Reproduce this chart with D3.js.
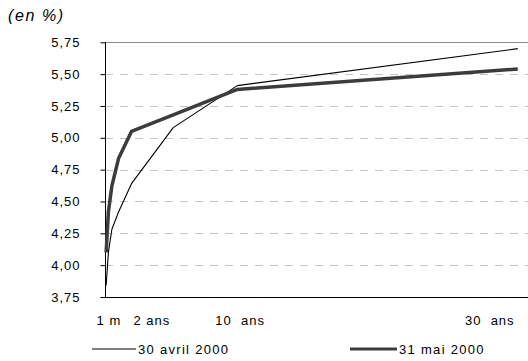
<!DOCTYPE html>
<html>
<head>
<meta charset="utf-8">
<script src="https://cdn.jsdelivr.net/npm/d3@7"></script>
<style>
  body { margin: 0; background: #fff; }
  text { font-family: "Liberation Sans", Arial, sans-serif; fill: #000; }
</style>
</head>
<body>
<svg width="528" height="361"></svg>
<script>
// maturites en annees
const maturites = [0.083, 0.25, 0.5, 1, 1.94, 5, 9.7, 30.25]
const avril = [3.84, 4.10, 4.28, 4.42, 4.64, 5.08, 5.41, 5.70]
const mai = [4.10, 4.42, 4.62, 4.84, 5.05, 5.18, 5.38, 5.54]
const yTicks = [3.75, 4.00, 4.25, 4.50, 4.75, 5.00, 5.25, 5.50, 5.75]
const xLabels = ['1 m', '2 ans', '10  ans', '30  ans']
const xLabelAt = [0.29, 3.44, 9.9, 28.2]
const seriesNames = ['30 avril 2000', '31 mai 2000']

const svg = d3.select('svg')
const plotLeft = 105, plotRight = 528, plotTop = 42.3, plotBottom = 297

// echelles
const x = d3.scaleLinear().domain([0, 31]).range([plotLeft, plotRight])
const y = d3.scaleLinear().domain([3.75, 5.75]).range([plotBottom, plotTop])
const fmt = v => d3.format('.2f')(v).replace('.', ',')

// grille pointillee
svg.append('g').selectAll('line')
  .data(yTicks.filter(v => v > 3.75 && v < 5.75))
  .enter().append('line')
    .attr('x1', plotLeft).attr('x2', plotRight)
    .attr('y1', d => Math.round(y(d)) + 0.5).attr('y2', d => Math.round(y(d)) + 0.5)
    .attr('stroke', '#c4c4c4').attr('stroke-dasharray', '8,7')

// ligne du haut
svg.append('line')
  .attr('x1', plotLeft).attr('x2', plotRight)
  .attr('y1', Math.round(y(5.75)) + 0.5).attr('y2', Math.round(y(5.75)) + 0.5)
  .attr('stroke', '#8c8c8c')

// axe y
const yAxis = svg.append('g')
  .attr('transform', 'translate(' + (plotLeft + 0.5) + ',0)')
  .call(d3.axisLeft(y).tickValues(yTicks).tickFormat(fmt).tickSize(5).tickPadding(20))
yAxis.select('.domain').remove()
yAxis.selectAll('.tick line').attr('stroke', '#000')
yAxis.selectAll('.tick text')
  .style('font-family', '"Liberation Sans", Arial, sans-serif')
  .style('font-size', '13px').style('letter-spacing', '1px')
svg.append('line')
  .attr('x1', plotLeft + 0.5).attr('x2', plotLeft + 0.5)
  .attr('y1', plotTop).attr('y2', plotBottom)
  .attr('stroke', '#000')

// axe x
svg.append('line')
  .attr('x1', plotLeft).attr('x2', plotRight)
  .attr('y1', plotBottom + 0.5).attr('y2', plotBottom + 0.5)
  .attr('stroke', '#000')
svg.append('g').selectAll('text')
  .data(xLabels)
  .enter().append('text')
    .attr('x', (d, i) => x(xLabelAt[i]))
    .attr('y', plotBottom + 28)
    .attr('text-anchor', 'middle')
    .style('white-space', 'pre')
    .style('font-size', '13px').style('letter-spacing', '1px')
    .text(d => d)

// titre
svg.append('text')
  .attr('x', 8).attr('y', 21)
  .style('font-size', '16px').style('font-style', 'italic').style('letter-spacing', '1.6px')
  .text('(en %)')

// courbes
const line = d3.line()
  .x((d, i) => x(maturites[i]))
  .y(d => y(d))
const styles = [{ w: 1.1, c: '#000' }, { w: 3.5, c: '#3c3c3c' }]
;[avril, mai].forEach((s, k) => {
  svg.append('path')
    .datum(s)
    .attr('d', line)
    .attr('fill', 'none')
    .attr('stroke', styles[k].c)
    .attr('stroke-width', styles[k].w)
    .attr('stroke-linejoin', 'round')
})

// legende
const legX = [92, 350]
const leg = svg.append('g').selectAll('g')
  .data(seriesNames)
  .enter().append('g')
    .attr('transform', (d, i) => 'translate(' + legX[i] + ',349)')
leg.append('line')
  .attr('x1', 0).attr('x2', (d, i) => i ? 47 : 44)
  .attr('stroke', (d, i) => styles[i].c)
  .attr('stroke-width', (d, i) => i ? 3 : 1.1)
leg.append('text')
  .attr('x', (d, i) => i ? 49 : 46)
  .attr('dy', '0.35em')
  .style('font-size', '13px').style('letter-spacing', '1.3px')
  .text(d => d)
</script>
</body>
</html>
